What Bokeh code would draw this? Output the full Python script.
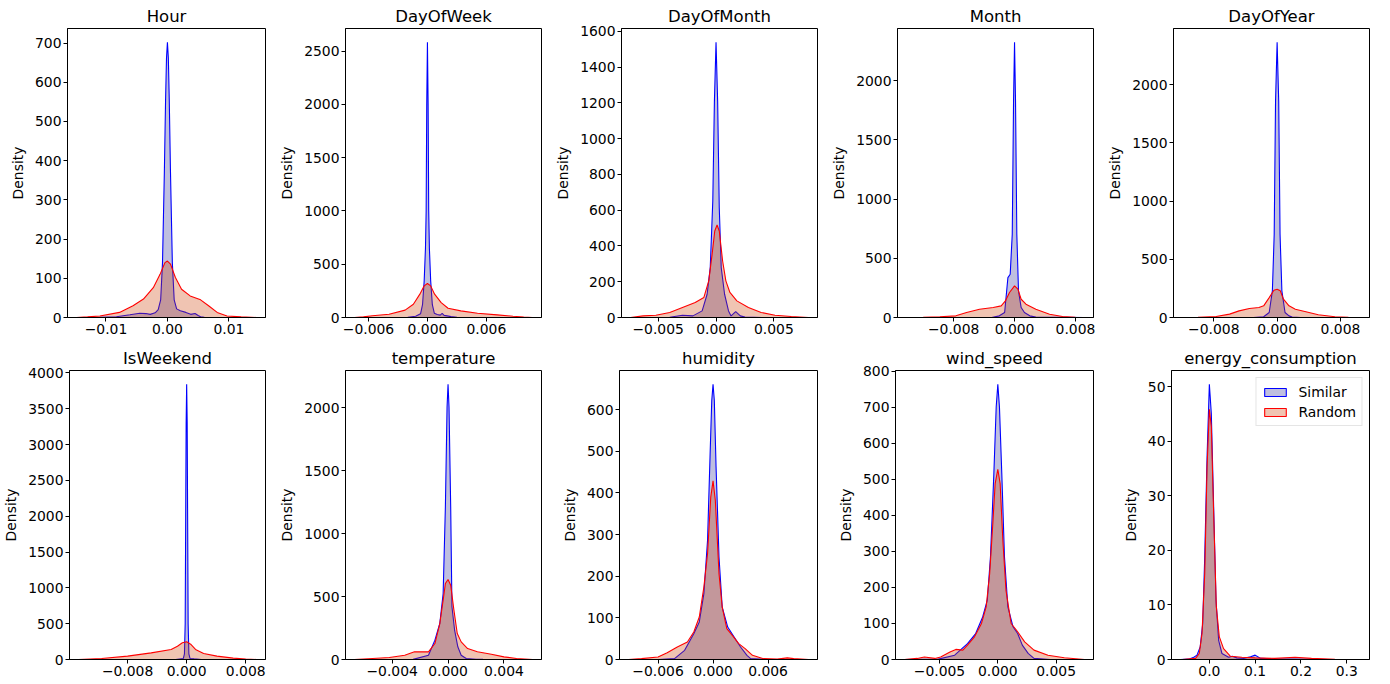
from bokeh.plotting import figure
from bokeh.models import Range1d, FixedTicker, CustomJSTickFormatter, Legend, LegendItem
from bokeh.layouts import column, row
from bokeh.embed import file_html
from bokeh.resources import INLINE

# ---------------- data ----------------
titles = ["Hour", "DayOfWeek", "DayOfMonth", "Month", "DayOfYear",
          "IsWeekend", "temperature", "humidity", "wind_speed", "energy_consumption"]
series_names = ["Similar", "Random"]

hour_sim_x = [-0.0148, -0.0110, -0.0083, -0.0061, -0.0045, -0.0035, -0.0028, -0.0020, -0.0015, -0.0011,
              -0.0008, -0.0005, -0.0003, -0.00015, 0.0, 0.00015, 0.0003, 0.0005, 0.0008, 0.0011,
              0.0015, 0.0021, 0.0030, 0.0038, 0.0045, 0.0050, 0.0054, 0.0060, 0.0080, 0.0145]
hour_sim_y = [0, 0.3, 2, 7, 11, 10, 8, 12, 20, 45,
              140, 370, 556, 662, 702, 662, 556, 370, 140, 45,
              22, 17, 13, 8, 10, 5, 2, 0.5, 0.1, 0]
hour_rand_x = [-0.0148, -0.0130, -0.0110, -0.0078, -0.0056, -0.0039, -0.0023, -0.0012, -0.0004, 0.0,
               0.0005, 0.0013, 0.0023, 0.0037, 0.0054, 0.0067, 0.0081, 0.0097, 0.0120, 0.0145]
hour_rand_y = [0, 1.5, 4, 13, 30, 47, 76, 110, 140, 144,
               136, 102, 72, 55, 45, 30, 13, 4, 1.5, 0]

dow_sim_x = [-0.0074, -0.0040, -0.0020, -0.0012, -0.0007, -0.0005, -0.00033, -0.00020, -0.00013, -0.00007,
             0.0, 0.00007, 0.00013, 0.00020, 0.00033, 0.0005, 0.0007, 0.0010, 0.0013, 0.0015,
             0.0017, 0.0020, 0.0024, 0.0030, 0.0040, 0.0107]
dow_sim_y = [0, 0.5, 2, 12, 35, 120, 344, 650, 1000, 2000,
             2584, 2000, 1000, 650, 344, 120, 40, 28, 22, 38,
             20, 15, 8, 2, 0.5, 0]
dow_rand_x = [-0.00743, -0.0065, -0.0056, -0.0039, -0.00227, -0.00143, -0.00077, -0.00033, 0.0, 0.00033,
              0.00073, 0.0014, 0.0021, 0.0034, 0.0051, 0.0071, 0.0087, 0.0098, 0.01067]
dow_rand_y = [0, 6, 16, 31, 69, 125, 219, 297, 319, 297,
              219, 140, 87, 62, 40, 25, 12, 4, 0]

dom_sim_x = [-0.0074, -0.0040, -0.0029, -0.0020, -0.0012, -0.00077, -0.0005, -0.00028, -0.00014, 0.0,
             0.00014, 0.00028, 0.00045, 0.00074, 0.00108, 0.0013, 0.0017, 0.0021, 0.0025, 0.0040, 0.0080]
dom_sim_y = [0, 1, 13, 9, 37, 130, 279, 651, 1209, 1539,
             1209, 614, 279, 130, 37, 9, 33, 9, 2, 0.3, 0]
dom_rand_x = [-0.00739, -0.0063, -0.0052, -0.0040, -0.0029, -0.0018, -0.00105, -0.00063, -0.00034, -0.00011,
              0.00009, 0.00028, 0.00057, 0.00085, 0.0012, 0.0018, 0.0028, 0.0039, 0.0051, 0.0065, 0.00798]
dom_rand_y = [0, 9, 13, 28, 56, 84, 112, 205, 353, 484,
              517, 484, 316, 205, 140, 93, 56, 28, 13, 6, 0]

month_sim_x = [-0.0142, -0.0030, -0.0020, -0.0013, -0.00087, -0.00057, -0.0003, -0.00013, 0.0,
               0.00013, 0.0003, 0.00052, 0.00087, 0.0013, 0.0020, 0.0028, 0.0092]
month_sim_y = [0, 0.5, 14, 42, 337, 365, 702, 1826, 2323,
               1826, 702, 225, 84, 42, 14, 3, 0]
month_rand_x = [-0.0142, -0.0120, -0.0098, -0.0077, -0.0063, -0.0046, -0.0028, -0.00175, -0.0012, -0.00066,
                0.0, 0.00044, 0.00087, 0.0015, 0.0028, 0.0046, 0.0063, 0.0080, 0.0092]
month_rand_y = [0, 2, 6, 14, 42, 70, 84, 98, 140, 211,
                267, 239, 154, 112, 70, 28, 8, 2, 0]

doy_sim_x = [-0.0118, -0.0030, -0.0017, -0.0010, -0.0006, -0.00037, -0.0002, 0.0,
             0.0002, 0.00037, 0.0006, 0.0010, 0.0015, 0.0019, 0.0030, 0.0104]
doy_sim_y = [0, 0.5, 6, 43, 229, 714, 1857, 2363,
             1857, 714, 229, 43, 14, 4, 0.5, 0]
doy_rand_x = [-0.01196, -0.0100, -0.0077, -0.0060, -0.0048, -0.0035, -0.0023, -0.0017, -0.0010, -0.0004,
              0.0, 0.0004, 0.0008, 0.0015, 0.0023, 0.0035, 0.0052, 0.0073, 0.0090, 0.01054]
doy_rand_y = [0, 2, 9, 29, 57, 77, 86, 100, 171, 234,
              243, 229, 157, 100, 71, 51, 23, 6, 2, 0]

wkd_sim_x = [-0.0146, -0.0015, -0.00045, -0.0003, -0.0002, -0.00013, -0.00007, 0.0,
             0.00007, 0.00013, 0.0002, 0.0003, 0.00045, 0.0010, 0.0020, 0.0094]
wkd_sim_y = [0, 0, 14, 80, 500, 2000, 3300, 3842,
             3300, 2000, 500, 80, 14, 9, 1, 0]
wkd_rand_x = [-0.01466, -0.0115, -0.0080, -0.0048, -0.0021, -0.00125, -0.00058, 0.0,
              0.00054, 0.0012, 0.0023, 0.0041, 0.0063, 0.0080, 0.00947]
wkd_rand_y = [0, 14, 47, 93, 140, 186, 233, 247,
              214, 140, 84, 47, 19, 6, 0]

temp_sim_x = [-0.0067, -0.0030, -0.0025, -0.0014, -0.00094, -0.00059, -0.00035, -0.00019, -0.00007, 0.0,
              0.00007, 0.00019, 0.00028, 0.00047, 0.0007, 0.00094, 0.0013, 0.0020, 0.0025, 0.0060]
temp_sim_y = [0, 0, 1, 34, 154, 286, 524, 1213, 2008, 2188,
              2008, 1213, 419, 233, 101, 34, 8, 2, 1, 0]
temp_rand_x = [-0.0067, -0.0054, -0.0042, -0.0031, -0.0024, -0.0020, -0.0014, -0.00094, -0.00059, -0.00035,
               -0.00019, 0.0, 0.00019, 0.00042, 0.00066, 0.00094, 0.0014, 0.0021, 0.0031, 0.0040,
               0.0049, 0.00605]
temp_rand_y = [0, 8, 16, 34, 61, 61, 61, 127, 286, 472,
               604, 636, 591, 392, 207, 140, 87, 61, 42, 21,
               8, 0]

hum_sim_x = [-0.0092, -0.0060, -0.0042, -0.0031, -0.0021, -0.0015, -0.0010, -0.0006, -0.00033, -0.00014,
             0.0, 0.00014, 0.00033, 0.00065, 0.0010, 0.0016, 0.0023, 0.0030, 0.0037, 0.0041,
             0.0060, 0.0104]
hum_sim_y = [0, 0, 2, 22, 62, 90, 158, 286, 486, 622,
             661, 622, 462, 246, 126, 78, 54, 30, 10, 2,
             0, 0]
hum_rand_x = [-0.00922, -0.0078, -0.0060, -0.0050, -0.0039, -0.0028, -0.0021, -0.0015, -0.0010, -0.0006,
              -0.00025, 0.0, 0.00025, 0.00065, 0.0010, 0.0015, 0.0021, 0.0028, 0.0035, 0.0043,
              0.0055, 0.0070, 0.0081, 0.0088, 0.01041]
hum_rand_y = [0, 2, 6, 16, 30, 42, 66, 102, 174, 254,
              390, 429, 382, 206, 126, 74, 58, 38, 26, 10,
              2, 1, 4, 2, 0]

wind_sim_x = [-0.0080, -0.0051, -0.0037, -0.0026, -0.0019, -0.0013, -0.0009, -0.00063, -0.00034, -0.00014,
              0.0, 0.00014, 0.00034, 0.00057, 0.00086, 0.0013, 0.0017, 0.0021, 0.0026, 0.0031,
              0.0045, 0.0074]
wind_sim_y = [0, 1, 12, 44, 72, 118, 165, 285, 516, 701,
              764, 701, 516, 285, 146, 91, 72, 40, 17, 3,
              0, 0]
wind_rand_x = [-0.0080, -0.0069, -0.0063, -0.0054, -0.0049, -0.0041, -0.0036, -0.0030, -0.0026, -0.0020,
               -0.0014, -0.0010, -0.0007, -0.00043, -0.00023, 0.0, 0.0002, 0.00043, 0.0007, 0.00114,
               0.0017, 0.0023, 0.0031, 0.0043, 0.0057, 0.00743]
wind_rand_y = [0, 3, 7, 3, 7, 21, 28, 26, 40, 63,
               100, 146, 238, 377, 488, 528, 488, 331, 192, 100,
               77, 49, 26, 12, 5, 0]

energy_sim_x = [-0.063, -0.045, -0.034, -0.027, -0.020, -0.0145, -0.0101, -0.005, 0.0, 0.0043,
                0.0094, 0.0145, 0.0203, 0.0275, 0.042, 0.050, 0.060, 0.075, 0.090, 0.100,
                0.112, 0.140, 0.180, 0.230, 0.260]
energy_sim_y = [0, 0.06, 0.4, 0.8, 2.3, 6.6, 18.8, 37.2, 50.5, 45.1,
                28, 10.9, 3.5, 1.1, 0.4, 0.6, 0.3, 0.2, 0.5, 0.8,
                0.2, 0.1, 0.1, 0.05, 0]
energy_rand_x = [-0.059, -0.030, -0.022, -0.016, -0.0101, -0.005, 0.0, 0.0043, 0.0094, 0.0152,
                 0.0217, 0.031, 0.0457, 0.071, 0.100, 0.143, 0.187, 0.223, 0.274, 0.330]
energy_rand_y = [0, 0.2, 1.1, 4.8, 15.8, 35.3, 45.9, 42.7, 26.8, 9.7,
                 4.2, 2, 0.6, 0.4, 0.3, 0.2, 0.4, 0.2, 0.05, 0]

# tick values and label decimals
x_ticks = [[-0.01, 0.0, 0.01], [-0.006, 0.0, 0.006], [-0.005, 0.0, 0.005], [-0.008, 0.0, 0.008],
           [-0.008, 0.0, 0.008], [-0.008, 0.0, 0.008], [-0.004, 0.0, 0.004], [-0.006, 0.0, 0.006],
           [-0.005, 0.0, 0.005], [0.0, 0.1, 0.2, 0.3]]
x_decimals = [2, 3, 3, 3, 3, 3, 3, 3, 3, 1]
y_ticks = [list(range(0, 701, 100)), list(range(0, 2501, 500)), list(range(0, 1601, 200)),
           list(range(0, 2001, 500)), list(range(0, 2001, 500)), list(range(0, 4001, 500)),
           list(range(0, 2001, 500)), list(range(0, 601, 100)), list(range(0, 801, 100)),
           list(range(0, 51, 10))]

sim_x = [hour_sim_x, dow_sim_x, dom_sim_x, month_sim_x, doy_sim_x, wkd_sim_x, temp_sim_x, hum_sim_x, wind_sim_x, energy_sim_x]
sim_y = [hour_sim_y, dow_sim_y, dom_sim_y, month_sim_y, doy_sim_y, wkd_sim_y, temp_sim_y, hum_sim_y, wind_sim_y, energy_sim_y]
rand_x = [hour_rand_x, dow_rand_x, dom_rand_x, month_rand_x, doy_rand_x, wkd_rand_x, temp_rand_x, hum_rand_x, wind_rand_x, energy_rand_x]
rand_y = [hour_rand_y, dow_rand_y, dom_rand_y, month_rand_y, doy_rand_y, wkd_rand_y, temp_rand_y, hum_rand_y, wind_rand_y, energy_rand_y]

# ---------------- styling ----------------
FONT = "DejaVu Sans"
TICK_FS = "13.9px"
SIM_LINE, SIM_FILL = "#0000ff", "#000080"
RAND_LINE, RAND_FILL = "#ff0000", "#cd3c00"

fmt_code = """
const s = Math.abs(tick).toFixed(d);
return (tick < 0 && parseFloat(s) != 0) ? '\\u2212' + s : s;
"""


def make_panel(i):
    xs = sim_x[i] + rand_x[i]
    ys = sim_y[i] + rand_y[i]
    lo, hi = min(xs), max(xs)
    pad = 0.05 * (hi - lo)
    p = figure(width=276, height=342,
               x_range=Range1d(lo - pad, hi + pad), y_range=Range1d(0, 1.05 * max(ys)),
               output_backend="svg", toolbar_location=None, title=titles[i],
               min_border_left=67, min_border_right=11, min_border_top=28, min_border_bottom=25,
               background_fill_color="white", border_fill_color="white")
    p.xgrid.visible = False
    p.ygrid.visible = False
    p.outline_line_color = "black"
    p.outline_line_width = 1
    p.outline_line_alpha = 1

    p.title.align = "center"
    p.title.text_font = FONT
    p.title.text_font_size = "16.5px"
    p.title.text_font_style = "normal"
    p.title.text_color = "black"
    p.title.standoff = 6

    r1 = p.patch(sim_x[i], sim_y[i], fill_color=SIM_FILL, fill_alpha=0.25,
                 line_color=SIM_LINE, line_width=1.1)
    r2 = p.patch(rand_x[i], rand_y[i], fill_color=RAND_FILL, fill_alpha=0.3,
                 line_color=RAND_LINE, line_width=1.1)

    for ax, ticks, dec in ((p.xaxis[0], x_ticks[i], x_decimals[i]), (p.yaxis[0], y_ticks[i], 0)):
        ax.ticker = FixedTicker(ticks=ticks)
        ax.formatter = CustomJSTickFormatter(args=dict(d=dec), code=fmt_code)
        ax.minor_tick_line_color = None
        ax.major_tick_in = 0
        ax.major_tick_out = 4
        ax.major_tick_line_color = "black"
        ax.axis_line_color = "black"
        ax.major_label_text_font = FONT
        ax.major_label_text_font_size = TICK_FS
        ax.major_label_text_color = "black"
        ax.major_label_standoff = 2
    p.yaxis.axis_label = "Density"
    p.yaxis.axis_label_text_font = FONT
    p.yaxis.axis_label_text_font_size = TICK_FS
    p.yaxis.axis_label_text_font_style = "normal"
    p.yaxis.axis_label_text_color = "black"
    p.yaxis.axis_label_standoff = 6

    if titles[i] == "energy_consumption":
        leg = Legend(items=[LegendItem(label=series_names[0], renderers=[r1]),
                            LegendItem(label=series_names[1], renderers=[r2])],
                     location="top_right")
        leg.label_text_font = FONT
        leg.label_text_font_size = TICK_FS
        leg.label_text_color = "black"
        leg.glyph_width = 27
        leg.glyph_height = 10
        leg.label_height = 17
        leg.label_standoff = 10
        leg.spacing = 3
        leg.padding = 5
        leg.margin = 7
        leg.border_line_color = "#cccccc"
        leg.border_line_width = 1
        leg.background_fill_alpha = 0.8
        p.add_layout(leg)
    return p


panels = [make_panel(i) for i in range(10)]
layout = column(row(*panels[:5]), row(*panels[5:]))

with open("out.html", "w", encoding="utf-8") as f:
    f.write(file_html(layout, INLINE))
